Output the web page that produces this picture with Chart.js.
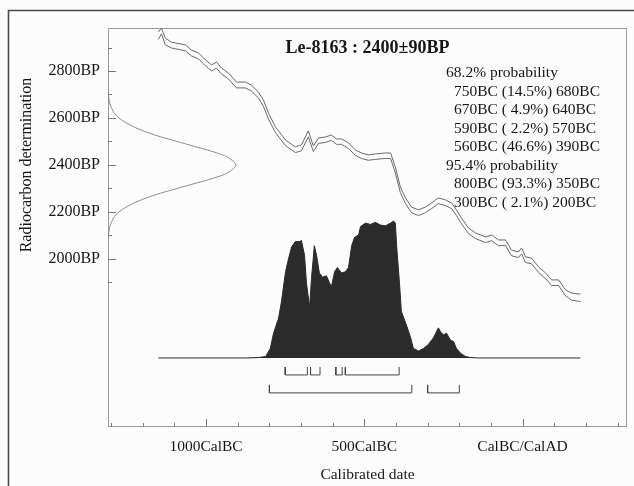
<!DOCTYPE html>
<html>
<head>
<meta charset="utf-8">
<script src="https://cdn.jsdelivr.net/npm/chart.js@4"></script>
<style>
html,body{margin:0;padding:0;background:#fff;}
canvas{display:block;}
</style>
</head>
<body>
<canvas id="c" width="634" height="486"></canvas>
<script>
// ---------- data ----------
const titleText = 'Le-8163 : 2400\u00b190BP';
const xTickValues = [-1000, -500, 0];
const xTickLabels = ['1000CalBC', '500CalBC', 'CalBC/CalAD'];
const yTickValues = [2000, 2200, 2400, 2600, 2800];
const yTickLabels = ['2000BP', '2200BP', '2400BP', '2600BP', '2800BP'];

// calibration curve (upper / lower band edges), calendar year (neg = BC), BP
const curveYears = [-1151,-1141,-1129,-1110,-1065,-1046,-1024,-1002,-983,-967,-952,-929,-904,-876,-857,-835,-819,-803,-781,-749,-718,-699,-677,-661,-645,-623,-604,-588,-572,-550,-528,-509,-487,-465,-433,-417,-402,-386,-370,-351,-329,-307,-288,-266,-243,-224,-209,-193,-171,-149,-117,-98,-76,-54,-35,-13,-3,9,28,51,73,92,114,136,155,177,183];
const curveUpper = [2966,2983,2940,2923,2911,2889,2877,2847,2826,2838,2813,2791,2753,2753,2740,2711,2677,2621,2562,2506,2477,2485,2545,2481,2515,2519,2528,2511,2511,2494,2464,2451,2443,2447,2451,2451,2391,2306,2260,2221,2209,2221,2238,2260,2251,2238,2209,2174,2132,2111,2094,2102,2081,2081,2038,2030,2047,2009,2004,1966,1940,1911,1911,1868,1855,1851,1851];
const curveLower = [2935,2958,2912,2898,2886,2864,2852,2822,2800,2812,2788,2766,2728,2728,2715,2686,2650,2596,2538,2482,2453,2460,2520,2457,2492,2496,2505,2488,2488,2470,2441,2428,2420,2424,2428,2428,2366,2282,2236,2197,2185,2197,2214,2236,2227,2214,2185,2150,2108,2087,2070,2078,2057,2057,2014,2006,2022,1985,1980,1942,1916,1887,1887,1843,1825,1820,1818];

// calibrated probability distribution (relative)
const distYears = [-1151,-870,-835,-812,-797,-787,-771,-762,-749,-740,-730,-718,-702,-699,-689,-683,-673,-667,-658,-651,-642,-632,-620,-610,-604,-594,-585,-572,-560,-550,-540,-531,-518,-512,-496,-481,-465,-449,-433,-417,-408,-402,-398,-389,-383,-367,-354,-345,-329,-313,-297,-281,-266,-259,-250,-240,-228,-218,-209,-196,-180,-164,-140,183];
const distProb = [0,0,0.003,0.01,0.07,0.18,0.29,0.41,0.63,0.72,0.81,0.85,0.85,0.86,0.75,0.55,0.37,0.58,0.82,0.75,0.62,0.59,0.60,0.55,0.52,0.63,0.66,0.62,0.63,0.66,0.82,0.88,0.90,0.96,0.985,0.975,0.99,0.97,0.965,0.985,1.0,0.985,0.82,0.55,0.34,0.24,0.15,0.07,0.05,0.07,0.10,0.15,0.22,0.19,0.17,0.18,0.13,0.12,0.07,0.035,0.01,0.003,0,0];

// radiocarbon determination (relative density vs BP)
const gaussBP = [2720,2700,2680,2660,2640,2620,2600,2580,2560,2540,2520,2500,2480,2460,2440,2420,2400,2380,2360,2340,2320,2300,2280,2260,2240,2220,2200,2180,2160,2140,2120,2100,2080];
const gaussP = [0.002,0.004,0.008,0.015,0.03,0.05,0.085,0.14,0.21,0.30,0.41,0.54,0.67,0.80,0.91,0.97,1.0,0.97,0.91,0.80,0.67,0.54,0.41,0.30,0.21,0.14,0.085,0.05,0.03,0.015,0.008,0.004,0.002];

// probability ranges
const ranges68 = [[-750,-680],[-670,-640],[-590,-570],[-560,-390]];
const ranges95 = [[-800,-350],[-300,-200]];
const probLines = [
  ['68.2% probability', 0],
  ['750BC (14.5%) 680BC', 1],
  ['670BC ( 4.9%) 640BC', 1],
  ['590BC ( 2.2%) 570BC', 1],
  ['560BC (46.6%) 390BC', 1],
  ['95.4% probability', 0],
  ['800BC (93.3%) 350BC', 1],
  ['300BC ( 2.1%) 200BC', 1]
];

// ---------- build datasets ----------
const serif = '"Liberation Serif", "DejaVu Serif", serif';
function pts(xs, ys) { return xs.map((v, i) => ({x: v, y: ys[i]})); }
function bracketSets(ranges, top, bottom) {
  return ranges.map(r => ({
    data: [{x: r[0], y: top}, {x: r[0], y: bottom}, {x: r[1], y: bottom}, {x: r[1], y: top}],
    yAxisID: 'yp', showLine: true, borderColor: '#444', borderWidth: 1,
    pointRadius: 0, fill: false, tension: 0
  }));
}

const datasets = [
  {
    data: pts(distYears, distProb), yAxisID: 'yp', showLine: true,
    borderColor: '#2a2a2a', backgroundColor: '#2b2b2b', borderWidth: 1,
    fill: 'origin', pointRadius: 0, tension: 0
  },
  {
    data: pts(curveYears, curveUpper), showLine: true, borderColor: '#6a6a6a',
    borderWidth: 1, pointRadius: 0, fill: false, tension: 0
  },
  {
    data: pts(curveYears, curveLower), showLine: true, borderColor: '#6a6a6a',
    borderWidth: 1, pointRadius: 0, fill: false, tension: 0
  },
  {
    data: pts(gaussP, gaussBP), xAxisID: 'xg', showLine: true, borderColor: '#8c8c8c',
    borderWidth: 1, pointRadius: 0, fill: false, tension: 0.3
  },
  ...bracketSets(ranges68, -0.066, -0.124),
  ...bracketSets(ranges95, -0.197, -0.255)
];

const decor = {
  id: 'decor',
  beforeDraw(chart) {
    const {ctx, width, height} = chart;
    ctx.save();
    ctx.fillStyle = '#fcfcfc';
    ctx.fillRect(0, 0, width, height);
    ctx.strokeStyle = '#4a4a4a';
    ctx.lineWidth = 1.6;
    ctx.beginPath();
    ctx.moveTo(8.5, height);
    ctx.lineTo(8.5, 10.5);
    ctx.lineTo(width, 10.5);
    ctx.stroke();
    ctx.restore();
  },
  beforeDatasetsDraw(chart) {
    const {ctx, chartArea: a, scales} = chart;
    const x = scales.x, y = scales.y;
    ctx.save();
    ctx.strokeStyle = '#9a9a9a';
    ctx.lineWidth = 1;
    ctx.strokeRect(a.left + 0.5, a.top + 0.5, a.right - a.left - 1, a.bottom - a.top - 1);
    ctx.strokeStyle = '#777';
    ctx.beginPath();
    for (let v = -1300; v <= 300; v += 100) {
      const px = Math.round(x.getPixelForValue(v)) + 0.5;
      const len = (v % 500 === 0) ? 8 : 4;
      ctx.moveTo(px, a.bottom);
      ctx.lineTo(px, a.bottom - len);
    }
    for (let v = 1900; v <= 2900; v += 100) {
      const py = Math.round(y.getPixelForValue(v)) + 0.5;
      const len = (v % 200 === 0) ? 8 : 4;
      ctx.moveTo(a.left, py);
      ctx.lineTo(a.left + len, py);
    }
    ctx.stroke();
    ctx.restore();
  },
  afterDraw(chart) {
    const {ctx, chartArea: a, scales} = chart;
    ctx.save();
    ctx.fillStyle = '#161616';
    ctx.textBaseline = 'middle';
    ctx.textAlign = 'center';
    ctx.font = 'bold 18px ' + serif;
    ctx.fillText(titleText, (a.left + a.right) / 2, 48);
    ctx.font = '15.5px ' + serif;
    ctx.textAlign = 'left';
    probLines.forEach((l, i) => {
      ctx.fillText(l[0], l[1] ? 454 : 446, 73 + i * 18.5);
    });
    ctx.textAlign = 'center';
    ctx.fillText('Calibrated date', (a.left + a.right) / 2, 475);
    ctx.translate(27, scales.y.getPixelForValue(2400));
    ctx.rotate(-Math.PI / 2);
    ctx.font = '16px ' + serif;
    ctx.fillText('Radiocarbon determination', 0, 0);
    ctx.restore();
  }
};

new Chart(document.getElementById('c'), {
  type: 'scatter',
  data: {datasets},
  plugins: [decor],
  options: {
    responsive: false,
    animation: false,
    devicePixelRatio: 1,
    layout: {padding: {top: 28, right: 7, left: 0, bottom: 0}},
    plugins: {legend: {display: false}, tooltip: {enabled: false}, title: {display: false}},
    elements: {line: {borderCapStyle: 'butt'}},
    scales: {
      x: {
        type: 'linear', min: -1310, max: 330,
        grid: {display: false, drawTicks: false}, border: {display: false},
        afterBuildTicks: s => { s.ticks = xTickValues.map(v => ({value: v})); },
        afterFit: s => { s.height = 59; },
        ticks: {
          autoSkip: false, maxRotation: 0, padding: 11, color: '#161616',
          font: {family: serif, size: 15.5},
          callback: v => xTickLabels[xTickValues.indexOf(v)]
        }
      },
      y: {
        type: 'linear', min: 1285, max: 2983,
        grid: {display: false, drawTicks: false}, border: {display: false},
        afterBuildTicks: s => { s.ticks = yTickValues.map(v => ({value: v})); },
        afterFit: s => { s.width = 108; },
        ticks: {
          autoSkip: false, padding: 8, color: '#161616',
          font: {family: serif, size: 16},
          callback: v => yTickLabels[yTickValues.indexOf(v)]
        }
      },
      xg: {type: 'linear', display: false, min: 0, max: 4.055},
      yp: {type: 'linear', display: false, min: -0.504, max: 2.409}
    }
  }
});
</script>
</body>
</html>
